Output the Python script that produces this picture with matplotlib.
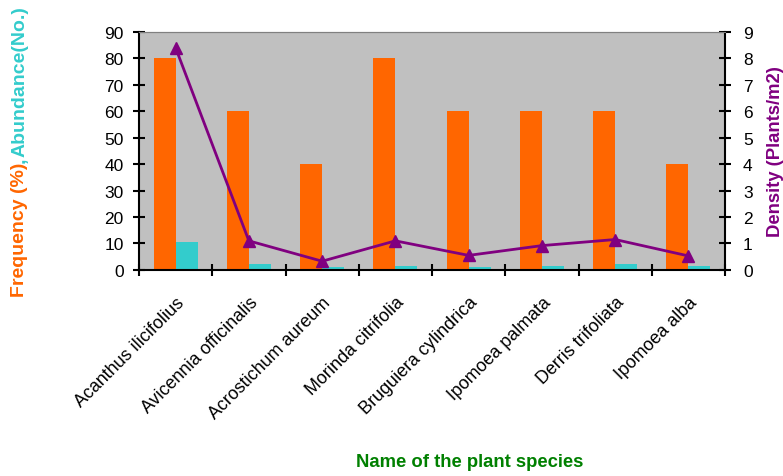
import numpy as np
import matplotlib
matplotlib.use('Agg')
import matplotlib.pyplot as plt

plt.rcParams['font.family'] = ['Liberation Sans', 'DejaVu Sans']

species = ['Acanthus ilicifolius', 'Avicennia officinalis', 'Acrostichum aureum',
           'Morinda citrifolia', 'Bruguiera cylindrica', 'Ipomoea palmata',
           'Derris trifoliata', 'Ipomoea alba']
frequency = [80, 60, 40, 80, 60, 60, 60, 40]
abundance = [10.7, 2.3, 1.1, 1.5, 1.1, 1.5, 2.3, 1.5]
density = [8.4, 1.1, 0.33, 1.1, 0.55, 0.92, 1.15, 0.53]

orange = '#FF6600'
cyan = '#33CCCC'
purple = '#800080'

fig = plt.figure(figsize=(7.83, 4.77), dpi=100)
ax = fig.add_axes([0.1775, 0.432, 0.7485, 0.499])
ax.set_facecolor('#C0C0C0')

x = np.arange(len(species))
w = 0.3
ax.bar(x - w / 2, frequency, w, color=orange, zorder=2)
ax.bar(x + w / 2, abundance, w, color=cyan, zorder=2)

ax.set_xlim(-0.5, len(species) - 0.5)
ax.set_ylim(0, 90)
ax.set_yticks(range(0, 91, 10))
ax.set_xticks(np.arange(-0.5, len(species), 1))
ax.set_xticklabels([])
ax.set_xticks(x, minor=True)
ax.set_xticklabels(species, minor=True, rotation=45, ha='right',
                   rotation_mode='anchor', fontsize=12.9)
ax.tick_params(axis='x', which='minor', length=0, pad=17)
ax.tick_params(axis='x', which='major', direction='inout', length=8, width=1.5)
ax.tick_params(axis='y', direction='inout', length=8, width=1.5, labelsize=12.5, pad=7)

for s in ['left', 'bottom']:
    ax.spines[s].set_linewidth(1.5)
ax.spines['top'].set_color('#808080')
ax.spines['right'].set_visible(False)

ax2 = ax.twinx()
ax2.plot(x, density, color=purple, lw=2, marker='^', markersize=9, zorder=3)
ax2.set_ylim(0, 9)
ax2.set_yticks(range(0, 10))
ax2.tick_params(axis='y', direction='inout', length=8, width=1.5, labelsize=12.5, pad=9)
ax2.spines['right'].set_linewidth(1.5)
ax2.spines['top'].set_color('#808080')
for s in ['left', 'bottom']:
    ax2.spines[s].set_visible(False)

ax2.set_ylabel('Density (Plants/m2)', color=purple, fontsize=13.3,
               fontweight='bold', labelpad=10)

fig.text(470 / 783, 1 - 467 / 477, 'Name of the plant species', color='#008000',
         fontsize=13.3, fontweight='bold', ha='center', va='baseline')

# multi-coloured left axis title, stacked bottom to top
fig.canvas.draw()
renderer = fig.canvas.get_renderer()
parts = [('Frequency (%)', orange), (',', cyan), ('Abundance(No.)', cyan)]
ypix = 297
for txt, col in parts:
    t = fig.text(20 / 783, 1 - ypix / 477, txt, color=col, fontsize=14,
                 fontweight='bold', rotation=90, ha='center', va='bottom')
    bb = t.get_window_extent(renderer)
    ypix -= bb.height

fig.savefig('out.png', dpi=100)
